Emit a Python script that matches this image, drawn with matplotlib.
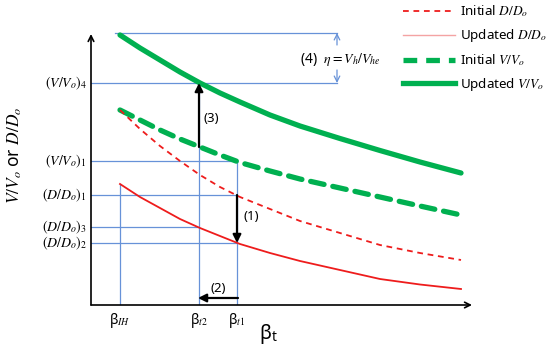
import numpy as np
import matplotlib
matplotlib.use("Agg")
import matplotlib.pyplot as plt
from matplotlib.lines import Line2D

plt.rcParams['font.family'] = ['Noto Sans', 'DejaVu Sans']
plt.rcParams['mathtext.fontset'] = 'stix'

# curves (x = beta_t, y = ratio)
beta = [29, 49, 69, 89, 109, 129, 149, 179, 209, 249, 289, 329, 370]
upd_v = [270, 257, 245, 233, 222, 212, 203, 190, 179, 166.5, 154.5, 143, 132]
ini_v = [195, 185, 175, 166, 158, 150, 142.5, 134, 126, 117, 108, 99, 90]
ini_d = [195, 176, 159, 144, 130, 118, 108, 96, 84, 72, 60, 52, 45]
upd_d = [121, 108, 97, 86, 77, 69, 61, 52, 44, 35, 26, 20.5, 16]

# reference points
beta_ih, beta_t2, beta_t1 = 29, 108, 146
v_top, v4, v1 = 272, 222, 144
d1, d3, d2 = 110, 78, 62
eta_x = 246

xmax, ymax = 381, 271

green = '#00b050'
red = '#ee1c1c'
blue = '#6792d8'

fig = plt.figure(figsize=(5.5, 3.48), dpi=100)
ax = fig.add_axes([91/550, 43/348, 381/550, 271/348])
ax.set_xlim(0, xmax)
ax.set_ylim(0, ymax)
ax.axis('off')

# guide lines
lw_b = 0.9
ax.plot([24, eta_x], [v_top, v_top], color=blue, lw=lw_b, clip_on=False)
ax.plot([0, eta_x], [v4, v4], color=blue, lw=lw_b)
ax.plot([0, beta_t1], [v1, v1], color=blue, lw=lw_b)
ax.plot([0, beta_t1], [d1, d1], color=blue, lw=lw_b)
ax.plot([0, beta_t2], [d3, d3], color=blue, lw=lw_b)
ax.plot([0, beta_t1], [d2, d2], color=blue, lw=lw_b)
ax.plot([beta_ih, beta_ih], [0, upd_d[0]], color=blue, lw=lw_b)
ax.plot([beta_t2, beta_t2], [0, v4], color=blue, lw=lw_b)
ax.plot([beta_t1, beta_t1], [0, v1], color=blue, lw=lw_b)

# curves
green_dash = (0, (2.6, 1.7))
red_dash = (0, (3.2, 2.6))
ax.plot(beta, upd_v, color=green, lw=3.8, solid_capstyle='round', clip_on=False)
ax.plot(beta, ini_v, color=green, lw=3.8, ls=green_dash, dash_capstyle='round')
ax.plot(beta, ini_d, color=red, lw=1.3, ls=red_dash)
ax.plot(beta, upd_d, color=red, lw=1.3)

# axes arrows
ax.annotate('', xy=(xmax, 0), xytext=(0, 0),
            arrowprops=dict(arrowstyle='->', color='black', lw=1.2, shrinkA=0, shrinkB=0),
            annotation_clip=False)
ax.annotate('', xy=(0, ymax), xytext=(0, 0),
            arrowprops=dict(arrowstyle='->', color='black', lw=1.2, shrinkA=0, shrinkB=0),
            annotation_clip=False)

# step arrows
ak = dict(arrowstyle='-|>', color='black', lw=1.6, shrinkA=0, shrinkB=0, mutation_scale=12)
ax.annotate('', xy=(beta_t2, v4), xytext=(beta_t2, 158), arrowprops=ak)
ax.annotate('', xy=(beta_t1, d2), xytext=(beta_t1, d1), arrowprops=ak)
ax.annotate('', xy=(beta_t2 - 1, 7), xytext=(beta_t1 + 1, 7), arrowprops=ak)
ax.text(beta_t2 + 5, 186, '(3)', fontsize=9.5, va='center', ha='left')
ax.text(beta_t1 + 7, 88, '(1)', fontsize=9.5, va='center', ha='left')
ax.text((beta_t1 + beta_t2) / 2, 17, '(2)', fontsize=9.5, va='center', ha='center')

# eta arrows
ab = dict(arrowstyle='->', color=blue, lw=0.9, shrinkA=0, shrinkB=0)
ax.annotate('', xy=(eta_x, v_top), xytext=(eta_x, 260), arrowprops=ab, annotation_clip=False)
ax.annotate('', xy=(eta_x, v4), xytext=(eta_x, 235), arrowprops=ab)
ax.text(209, 246, r'(4)  $\eta = V_h/V_{he}$', fontsize=10, va='center', ha='left')

# y tick labels
ylabels = [(v4, r'$(V/V_o)_4$'), (v1, r'$(V/V_o)_1$'), (d1, r'$(D/D_o)_1$'),
           (d3, r'$(D/D_o)_3$'), (d2, r'$(D/D_o)_2$')]
for yv, s in ylabels:
    ax.text(-4, yv, s, fontsize=10, ha='right', va='center')

# x tick labels
xlabels = [(beta_ih, r'$\mathregular{\beta}_{IH}$'), (beta_t2, r'$\mathregular{\beta}_{t2}$'),
           (beta_t1, r'$\mathregular{\beta}_{t1}$')]
for xv, s in xlabels:
    ax.text(xv, -16, s, fontsize=10, ha='center', va='center')

ax.text(177, -29, r'$\mathregular{\beta}_{\mathregular{t}}$', fontsize=14, ha='center', va='center')
ax.text(-76, 150, r'$V/V_o$ or $D/D_o$', fontsize=12.5, rotation=90, ha='center', va='center')

# legend
handles = [
    Line2D([], [], color=red, lw=1.3, ls=red_dash),
    Line2D([], [], color='#f4a3a3', lw=1.0),
    Line2D([], [], color=green, lw=3.8, ls=green_dash),
    Line2D([], [], color=green, lw=3.8),
]
labels = [r'Initial $D/D_o$', r'Updated $D/D_o$', r'Initial $V/V_o$', r'Updated $V/V_o$']
fig.legend(handles, labels, loc='upper left', bbox_to_anchor=(403/550, 1 - 3.5/348),
           frameon=False, fontsize=9.6, handlelength=3.9, handletextpad=0.35,
           labelspacing=0.6, borderpad=0, borderaxespad=0)

fig.savefig('out.png', dpi=100)
